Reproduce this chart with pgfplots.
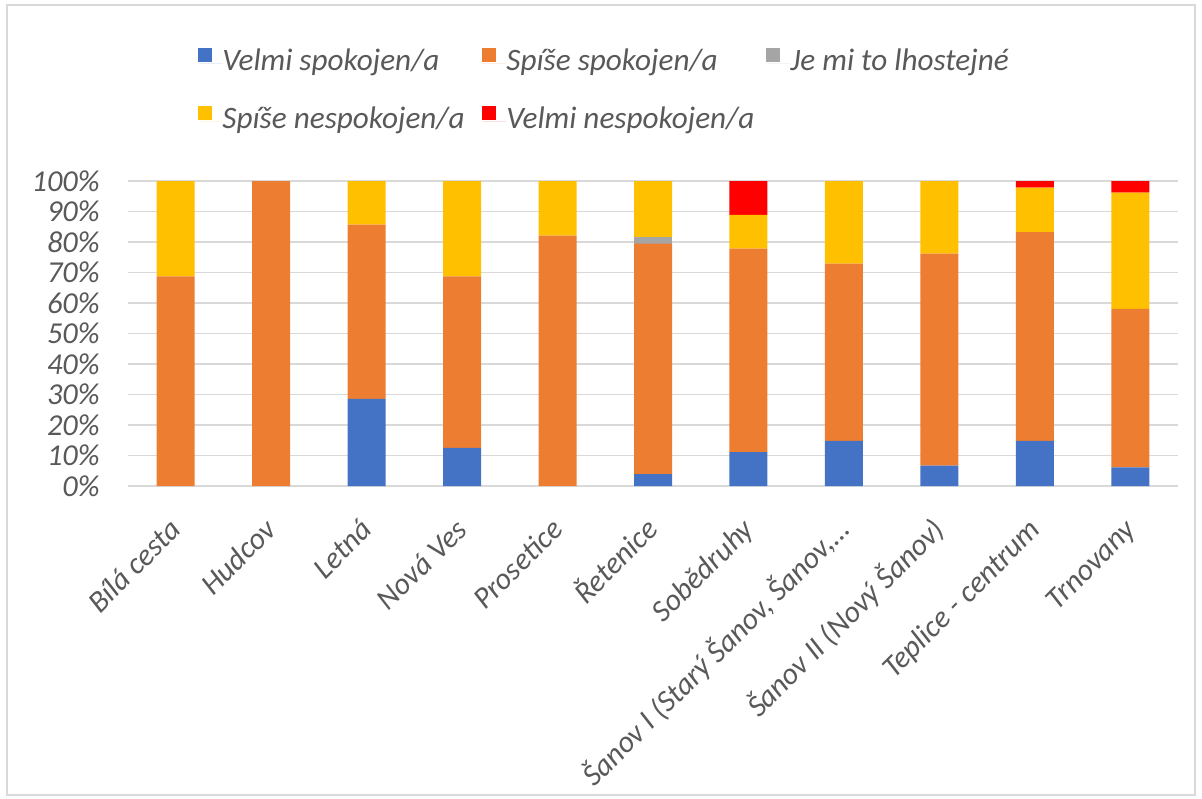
\documentclass[border=0pt]{standalone}
\usepackage{fontspec}
\setmainfont{Carlito}
\usepackage{pgfplots}
\usepackage{pgfplotstable}
\pgfplotsset{compat=1.18}
\definecolor{cblue}{HTML}{4472C4}
\definecolor{corange}{HTML}{ED7D31}
\definecolor{cgray}{HTML}{A5A5A5}
\definecolor{cyellow}{HTML}{FFC000}
\definecolor{cred}{HTML}{FF0000}
\definecolor{txt}{HTML}{595959}
\definecolor{gridc}{HTML}{D9D9D9}

\pgfplotstableread{
x blue orange gray yellow red
0  0     68.75  0    31.25  0
1  0     100    0    0      0
2  28.6  57.1   0    14.3   0
3  12.5  56.25  0    31.25  0
4  0     82.1   0    17.9   0
5  3.9   75.6   2.0  18.5   0
6  11.1  66.7   0    11.1   11.1
7  14.8  58.1   0    27.1   0
8  6.7   69.5   0    23.8   0
9  14.8  68.4   0    14.6   2.2
10 6.1   52.0   0    38.1   3.8
}\datatable

\newcommand{\legbox}[1]{\makebox[130pt][l]{#1}}

\begin{document}
\begin{tikzpicture}
\useasboundingbox (-64pt,-156pt) rectangle (537pt,243pt);
\draw[gridc, line width=0.75pt] (-60.5pt,-154.5pt) rectangle (533.5pt,240.5pt);
\begin{axis}[
  at={(0,0)}, anchor=south west,
  scale only axis, width=525pt, height=152.5pt,
  ybar stacked, bar width=19pt,
  xmin=-0.5, xmax=10.5, ymin=0, ymax=100,
  xtick={0,...,10},
  xticklabels={Bílá cesta, Hudcov, Letná, Nová Ves, Prosetice, Řetenice, Sobědruhy, {Šanov I (Starý Šanov, Šanov,…}, Šanov II (Nový Šanov), Teplice - centrum, Trnovany},
  ytick={0,10,...,100},
  yticklabel={\pgfmathprintnumber{\tick}\%},
  /pgf/number format/assume math mode=true,
  ymajorgrids, grid style={gridc, line width=0.75pt},
  axis lines*=left,
  x axis line style={gridc, line width=0.75pt},
  y axis line style={draw=none},
  major tick length=0pt,
  tick style={draw=none},
  tick label style={font=\itshape\fontsize{15.2}{18}\selectfont, text=txt},
  yticklabel style={inner sep=0pt, xshift=-14pt},
  xticklabel style={rotate=45, anchor=north east, inner sep=0pt, text height=11pt, xshift=-13.5pt, yshift=-7.4pt},
  legend columns=3,
  legend image code/.code={\fill[#1] (0pt,0.5pt) rectangle (7pt,7.5pt); \path (0pt,0pt) -- (12pt,0pt);},
  legend style={at={(axis description cs:0.0667,1.436)}, anchor=north west, draw=none, fill=none, inner sep=0pt, row sep=15pt, column sep=0pt,
    nodes={inner sep=0pt, text height=10pt, text depth=3pt, font=\itshape\fontsize{15.6}{18}\selectfont, text=txt}},
  legend cell align=left,
]
\addplot[fill=cblue, draw=none] table[x=x,y=blue]{\datatable};
\addplot[fill=corange, draw=none] table[x=x,y=orange]{\datatable};
\addplot[fill=cgray, draw=none] table[x=x,y=gray]{\datatable};
\addplot[fill=cyellow, draw=none] table[x=x,y=yellow]{\datatable};
\addplot[fill=cred, draw=none] table[x=x,y=red]{\datatable};
\legend{\legbox{Velmi spokojen/a}, \legbox{Spíše spokojen/a}, \legbox{Je mi to lhostejné}, \legbox{Spíše nespokojen/a}, \legbox{Velmi nespokojen/a}}
\end{axis}
\end{tikzpicture}
\end{document}
